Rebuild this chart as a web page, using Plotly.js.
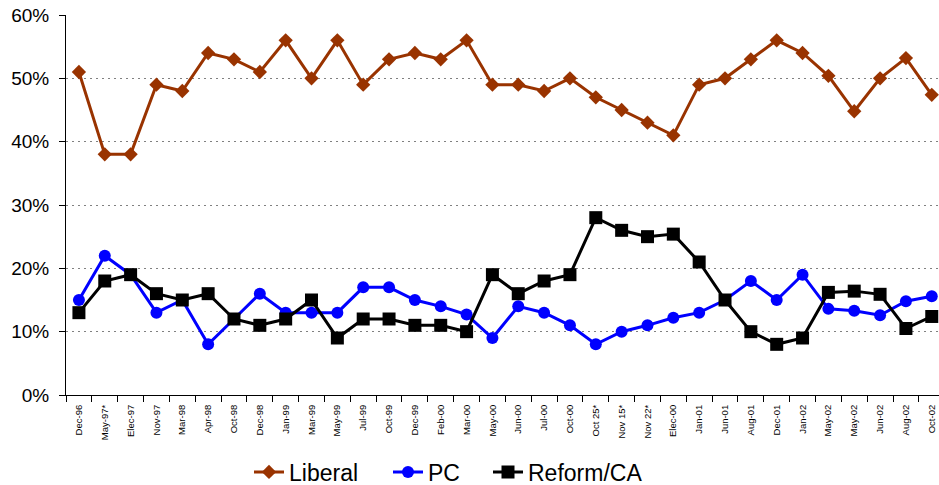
<!DOCTYPE html>
<html>
<head>
<meta charset="utf-8">
<script src="https://cdn.plot.ly/plotly-3.0.1.min.js"></script>
<style>html,body{margin:0;padding:0;background:#fff;}#chart{width:939px;height:485px;}</style>
</head>
<body>
<div id="chart"></div>
<script>
const labels = ["Dec-96","May-97*","Elec-97","Nov-97","Mar-98","Apr-98","Oct-98","Dec-98","Jan-99","Mar-99","May-99","Jul-99","Oct-99","Dec-99","Feb-00","Mar-00","May-00","Jun-00","Jul-00","Oct-00","Oct 25*","Nov 15*","Nov 22*","Elec-00","Jan-01","Jun-01","Aug-01","Dec-01","Jan-02","May-02","May-02","Jun-02","Aug-02","Oct-02"];
const liberal = [51,38,38,49,48,54,53,51,56,50,56,49,53,54,53,56,49,49,48,50,47,45,43,41,49,50,53,56,54,50.4,44.8,50,53.2,47.4];
const pc = [15,22,19,13,15,8,12,16,13,13,13,17,17,15,14,12.7,9,14,13,11,8,10,11,12.2,13,15,18,15,19,13.6,13.3,12.6,14.8,15.6];
const reform = [13,18,19,16,15,16,12,11,12,15,9,12,12,11,11,10,19,16,18,19,28,26,25,25.4,21,15,10,8,9,16.2,16.4,15.9,10.5,12.4];
const idx = labels.map((_, i) => i);
const bounds = labels.map((_, i) => i - 0.5).concat([labels.length - 0.5]);

const lineW = 3;
const traces = [
  {x: idx, y: liberal, name: "Liberal", mode: "lines+markers", legend: "legend",
   line: {color: "#993300", width: lineW}, marker: {symbol: "diamond", size: 11, color: "#993300"}},
  {x: idx, y: pc, name: "PC", mode: "lines+markers", legend: "legend2",
   line: {color: "#0000FF", width: lineW}, marker: {symbol: "circle", size: 12, color: "#0000FF"}},
  {x: idx, y: reform, name: "Reform/CA", mode: "lines+markers", legend: "legend3",
   line: {color: "#000000", width: lineW}, marker: {symbol: "square", size: 13, color: "#000000"}},
  {x: [0], y: [0], xaxis: "x2", showlegend: false, hoverinfo: "skip", mode: "markers", marker: {opacity: 0, size: 1}}
];
const xr = [-0.5, 33.28];
function leg(px) {
  return {orientation: "h", xref: "container", yref: "container", x: px / 939, xanchor: "left",
          y: (485 - 472) / 485, yanchor: "middle", font: {size: 23, color: "#000"},
          bgcolor: "rgba(0,0,0,0)", borderwidth: 0, itemwidth: 30};
}
const layout = {
  width: 939, height: 485,
  margin: {l: 66, r: 0, t: 15, b: 90, autoexpand: false},
  paper_bgcolor: "#fff", plot_bgcolor: "#fff",
  font: {family: "Liberation Sans, Arial, sans-serif", color: "#000"},
  showlegend: true,
  legend: leg(249), legend2: leg(388), legend3: leg(488),
  xaxis: {range: xr, tickvals: idx, ticktext: labels, tickangle: -90, automargin: false,
          tickfont: {size: 9.5, color: "#000"}, ticks: "", ticklabelstandoff: 5,
          showgrid: false, zeroline: false,
          showline: true, linecolor: "#000", linewidth: 1, fixedrange: true},
  xaxis2: {range: xr, overlaying: "x", anchor: "y", side: "bottom", tickvals: bounds, automargin: false,
           ticks: "outside", ticklen: 6, tickcolor: "#000", tickwidth: 1,
           showticklabels: false, showgrid: false, zeroline: false, showline: false},
  yaxis: {range: [0, 60], tickvals: [0,10,20,30,40,50,60], ticktext: ["0%","10%","20%","30%","40%","50%","60%"],
          tickfont: {size: 19, color: "#000"}, ticks: "outside", ticklen: 6, tickcolor: "#000",
          ticklabelstandoff: 6, automargin: false,
          showgrid: true, gridcolor: "#808080", gridwidth: 1, griddash: "2px,4px",
          zeroline: false, showline: true, linecolor: "#000", linewidth: 1, fixedrange: true}
};
Plotly.newPlot("chart", traces, layout, {displayModeBar: false, staticPlot: true});
</script>
</body>
</html>
